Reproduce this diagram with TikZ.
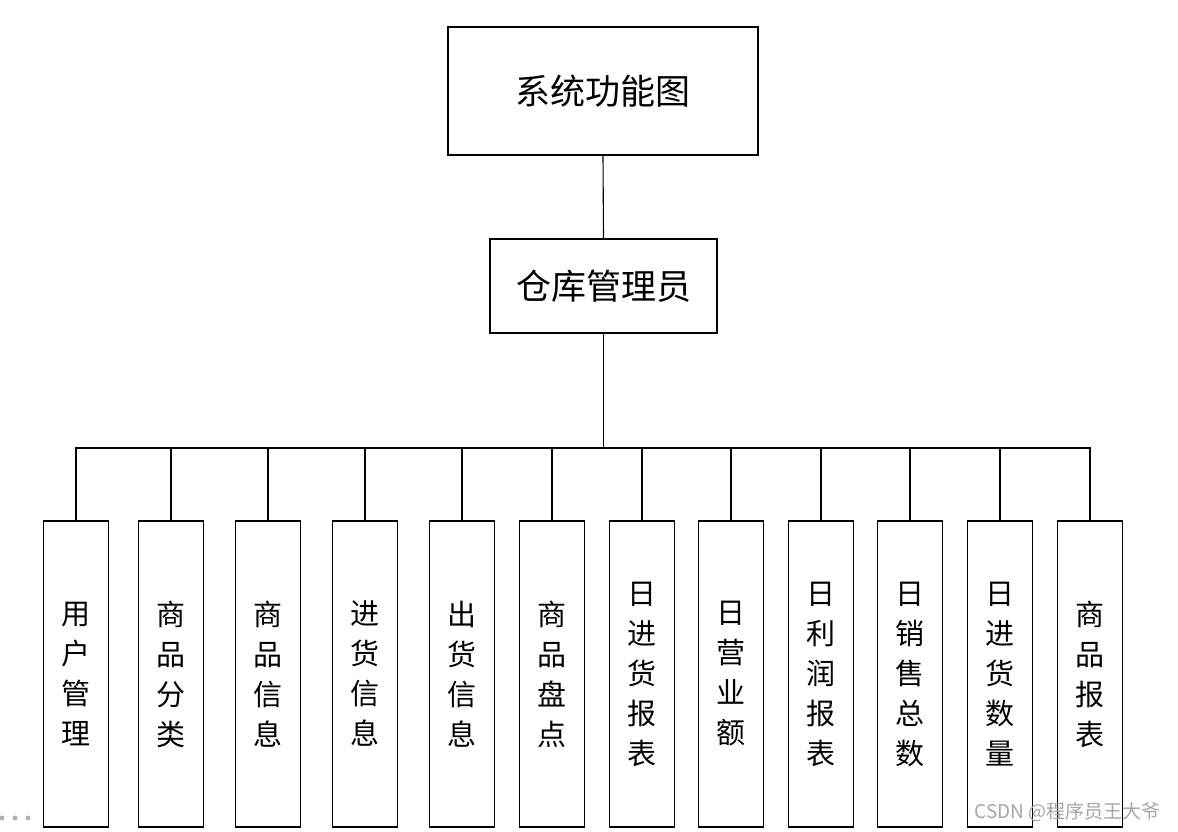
\documentclass[tikz,border=0pt]{standalone}
\usepackage{fontspec}
\setmainfont{Noto Sans CJK SC}
\begin{document}
\begin{tikzpicture}[x=1pt,y=-1pt,
  box/.style={draw,line width=1.3pt,inner sep=0pt,align=center},
  topbox/.style={box,minimum width=310pt,minimum height=128pt,font=\fontsize{35}{40}\selectfont},
  midbox/.style={box,minimum width=227pt,minimum height=94pt,font=\fontsize{35}{40}\selectfont},
  leaf/.style={box,minimum width=65pt,minimum height=306pt,font=\fontsize{29}{40}\selectfont},
  conn/.style={line width=1.1pt}]
\useasboundingbox (0,0) rectangle (1178,831);
\node[topbox] (top) at (603,91) {系统功能图};
\node[midbox] (mid) at (603.5,286) {仓库管理员};
\coordinate (bus) at (603.5,448);
\node[leaf] (l1) at (76,674) {用\\户\\管\\理};
\node[leaf] (l2) at (171,674) {商\\品\\分\\类};
\node[leaf] (l3) at (268,674) {商\\品\\信\\息};
\node[leaf] (l4) at (365,674) {进\\货\\信\\息};
\node[leaf] (l5) at (462,674) {出\\货\\信\\息};
\node[leaf] (l6) at (552,674) {商\\品\\盘\\点};
\node[leaf] (l7) at (642,674) {日\\进\\货\\报\\表};
\node[leaf] (l8) at (731,674) {日\\营\\业\\额};
\node[leaf] (l9) at (821,674) {日\\利\\润\\报\\表};
\node[leaf] (l10) at (910,674) {日\\销\\售\\总\\数};
\node[leaf] (l11) at (1000,674) {日\\进\\货\\数\\量};
\node[leaf] (l12) at (1090,674) {商\\品\\报\\表};
\draw[conn] (top.south) -- (mid.north);
\draw[conn] (mid.south) -- (bus);
\foreach \i in {1,...,12} {\draw[conn] (bus) -| (l\i.north);}
\node[text=gray!70,font=\fontsize{19}{22}\selectfont,anchor=east] (wm) at (1164,812) {CSDN @程序员王大爷};
\foreach \x in {2,15,28} {\fill[gray!60] (\x,818) circle (2.5pt);}
\end{tikzpicture}
\end{document}
